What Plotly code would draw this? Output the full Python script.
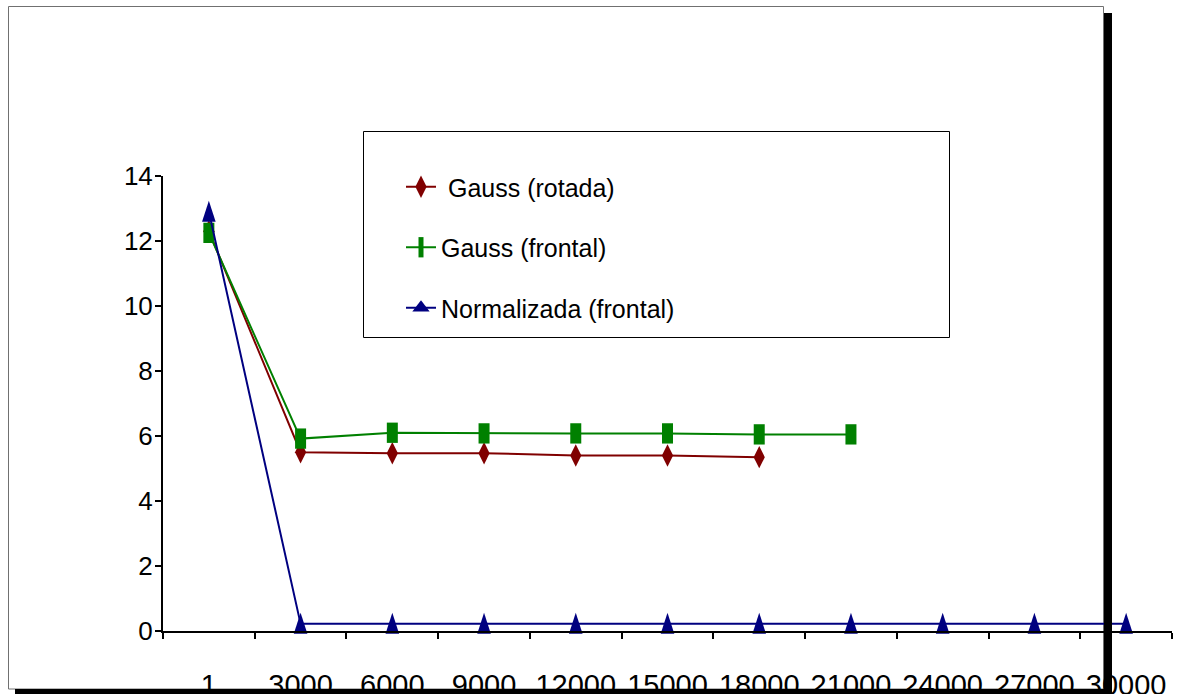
import plotly.graph_objects as go

categories = ["1", "3000", "6000", "9000", "12000", "15000", "18000", "21000", "24000", "27000", "30000"]
gauss_rotada = [12.3, 5.5, 5.47, 5.47, 5.4, 5.4, 5.35, None, None, None, None]
gauss_frontal = [12.25, 5.92, 6.1, 6.08, 6.08, 6.08, 6.05, 6.05, None, None, None]
normalizada = [12.9, 0.22, 0.22, 0.22, 0.22, 0.22, 0.22, 0.22, 0.22, 0.22, 0.22]
y_ticks = [0, 2, 4, 6, 8, 10, 12, 14]

FONT = "Liberation Sans, Arial, sans-serif"
W, H = 1178, 694
L, R, T, B = 163, 6, 176, 63
PW = W - L - R
PH = H - T - B
Y_MIN, Y_MAX = 0, 14
# the tall "arrow" marker has its tip at the data point; lift it by this many px
ARROW_LIFT_PX = 11
lift = ARROW_LIFT_PX * (Y_MAX - Y_MIN) / PH


def px2x(px):
    return (px - L) / PW


def px2y(py):
    return (H - B - py) / PH


fig = go.Figure()
fig.add_trace(go.Scatter(
    x=categories, y=gauss_rotada, name="\u00a0Gauss (rotada)", mode="lines+markers",
    line=dict(color="#800000", width=2),
    marker=dict(symbol="diamond-tall", size=16, color="#800000"),
    legendgroup="a"))
fig.add_trace(go.Scatter(
    x=categories, y=gauss_frontal, name="Gauss (frontal)", mode="lines+markers",
    line=dict(color="#008000", width=2),
    marker=dict(symbol="line-ns", size=14.5, color="#008000",
                line=dict(color="#008000", width=11)),
    legendgroup="b"))
# Normalizada: line on main axis
fig.add_trace(go.Scatter(
    x=categories, y=normalizada, name="Normalizada (frontal)", mode="lines",
    line=dict(color="#000080", width=2), showlegend=False, legendgroup="c"))
# Normalizada: tall triangle markers (lifted axis so they are centred on the line)
fig.add_trace(go.Scatter(
    x=categories, y=normalizada, name="Normalizada (frontal)", mode="markers",
    marker=dict(symbol="arrow", size=22, color="#000080"),
    yaxis="y2", showlegend=False, legendgroup="c", cliponaxis=False))
# legend entry for Normalizada
fig.add_trace(go.Scatter(
    x=[None], y=[None], name="Normalizada (frontal)", mode="lines+markers",
    line=dict(color="#000080", width=2),
    marker=dict(symbol="triangle-up", size=15, color="#000080"),
    legendgroup="c"))

shapes = [
    dict(type="rect", xref="paper", yref="paper",
         x0=px2x(8.5), x1=px2x(1103.5), y0=px2y(689), y1=px2y(6.5),
         line=dict(color="#707070", width=1), fillcolor="rgba(0,0,0,0)", layer="below"),
    dict(type="rect", xref="paper", yref="paper",
         x0=px2x(1104), x1=px2x(1112), y0=px2y(700), y1=px2y(13),
         line=dict(width=0), fillcolor="black", layer="above"),
    dict(type="rect", xref="paper", yref="paper",
         x0=px2x(15), x1=px2x(1112), y0=px2y(700), y1=px2y(689),
         line=dict(width=0), fillcolor="black", layer="above"),
    dict(type="rect", xref="paper", yref="paper",
         x0=px2x(363.5), x1=px2x(949.5), y0=px2y(337.5), y1=px2y(131.5),
         line=dict(color="black", width=1), fillcolor="white", layer="below"),
]

fig.update_layout(
    width=W, height=H,
    margin=dict(l=L, r=R, t=T, b=B, autoexpand=False),
    paper_bgcolor="white", plot_bgcolor="rgba(0,0,0,0)",
    font=dict(family=FONT, color="black", size=26),
    shapes=shapes,
    showlegend=True,
    legend=dict(x=px2x(401), y=px2y(164), xanchor="left", yanchor="top",
                bgcolor="rgba(0,0,0,0)", borderwidth=0,
                font=dict(family=FONT, size=25, color="black"),
                tracegroupgap=25, itemsizing="trace"),
    xaxis=dict(type="category", categoryorder="array", categoryarray=categories,
               range=[-0.5, 10.5], showgrid=False, zeroline=False,
               showline=True, linecolor="black", linewidth=2,
               ticks="outside", ticklen=6, tickwidth=1.5, tickcolor="black",
               tickson="boundaries", ticklabelstandoff=27,
               tickfont=dict(family=FONT, size=29, color="black"),
               automargin=False, fixedrange=True),
    yaxis=dict(range=[Y_MIN, Y_MAX], tickvals=y_ticks, showgrid=False, zeroline=False,
               showline=True, linecolor="black", linewidth=2,
               ticks="outside", ticklen=6, tickwidth=1.5, tickcolor="black",
               ticklabelstandoff=-3,
               tickfont=dict(family=FONT, size=26, color="black"),
               automargin=False, fixedrange=True),
    yaxis2=dict(range=[Y_MIN - lift, Y_MAX - lift], overlaying="y", visible=False,
                fixedrange=True),
)

fig.write_html("out.html")
